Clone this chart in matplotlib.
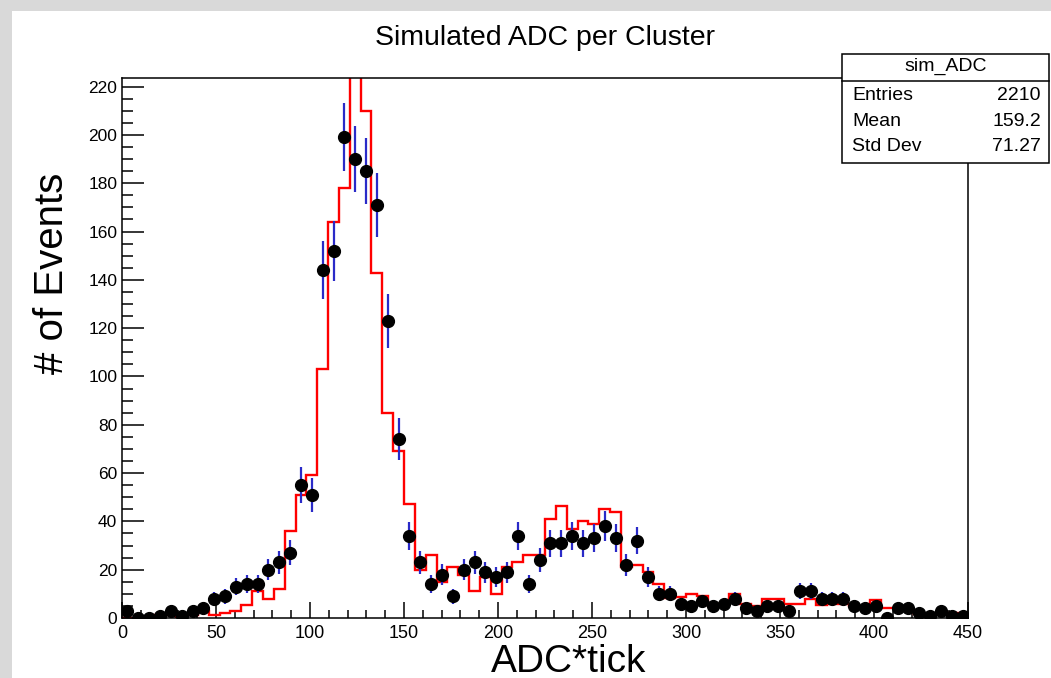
import numpy as np
import matplotlib
matplotlib.use('Agg')
import matplotlib.pyplot as plt
from matplotlib.patches import Rectangle
from matplotlib.ticker import MultipleLocator

plt.rcParams['font.family'] = ['Liberation Sans', 'DejaVu Sans']

# histogram binning: 78 bins from 0 to 450
x_lo, x_hi, n_bins = 0, 450, 78

# data counts per bin (black points)
data_counts = [3, 0, 0, 1, 3, 1, 3, 4, 8, 9, 13, 14, 14, 20, 23, 27,
               55, 51, 144, 152, 199, 190, 185, 171, 123, 74,
               34, 23, 14, 18, 9, 20, 23, 19, 17, 19,
               34, 14, 24, 31, 31, 34, 31, 33, 38, 33,
               22, 32, 17, 10, 10, 6, 5, 7,
               5, 6, 8, 4, 3, 5, 5, 3, 11, 11, 8, 8, 8, 5, 4, 5, 0, 4, 4, 2, 1, 3, 1, 1]

# simulated histogram (red line)
sim_counts = [0, 0, 0, 1.2, 1.2, 0, 1.2, 2.9, 1.2, 1.9, 2.9, 5.4, 11.2, 8, 11.9,
              36, 51, 59, 103, 164, 178, 257, 210, 143, 85, 69,
              47, 20, 26, 15, 21, 18, 11, 17, 10, 21,
              23, 26, 26, 41, 46.5, 37, 40, 39, 45, 44,
              21, 22, 19, 14, 8.4, 8.7, 10, 9,
              5, 6, 10, 6, 5, 8, 8, 5.7, 5.7, 8, 5.2, 5.7, 5.7, 5, 4.3, 7.3, 4.3, 4.3,
              3.2, 1.5, 0.3, 1.5, 2.2, 2.2]

stats_labels = ['Entries', 'Mean', 'Std Dev']
stats_values = ['2210', '159.2', '71.27']

W, H = 1051, 678
fig = plt.figure(figsize=(W / 100, H / 100), dpi=100)
fig.patch.set_facecolor('#d9d9d9')
fig.patches.append(Rectangle((12 / W, 0), 1, 1 - 11 / H, transform=fig.transFigure,
                             facecolor='white', edgecolor='none', zorder=-5))

ax = fig.add_axes([122 / W, (H - 618) / H, (968 - 122) / W, (618 - 77.5) / H])

edges = np.linspace(x_lo, x_hi, n_bins + 1)
centers = 0.5 * (edges[:-1] + edges[1:])
width = edges[1] - edges[0]
counts = np.array(data_counts, dtype=float)
errs = np.sqrt(counts)

ax.stairs(sim_counts, edges, baseline=None, color='#ff0000', lw=1.7, zorder=2)
ax.errorbar(centers, counts, yerr=errs, fmt='none', ecolor='#2a2ac8', elinewidth=1.6, zorder=3)
ax.errorbar(centers, counts, xerr=width / 2, fmt='none', ecolor='black', elinewidth=1.0, zorder=3)
ax.plot(centers, counts, 'o', color='black', ms=8.5, zorder=4)

ymax = 1.05 * np.max(counts + errs)
ax.set_xlim(x_lo, x_hi)
ax.set_ylim(0, ymax)

ax.xaxis.set_major_locator(MultipleLocator(50))
ax.xaxis.set_minor_locator(MultipleLocator(10))
ax.yaxis.set_major_locator(MultipleLocator(20))
ax.yaxis.set_minor_locator(MultipleLocator(5))
ax.tick_params(axis='y', which='major', direction='in', length=16, width=1.1, pad=3.5, labelsize=12.5)
ax.tick_params(axis='y', which='minor', direction='in', length=8, width=1.1)
ax.tick_params(axis='x', which='major', direction='in', length=11.5, width=1.1, pad=5, labelsize=13)
ax.tick_params(axis='x', which='minor', direction='in', length=6, width=1.1)
for s in ax.spines.values():
    s.set_linewidth(1.1)

fig.text(545 / W, 1 - 45 / H, 'Simulated ADC per Cluster', ha='center', va='baseline', fontsize=20.5)
fig.text(52 / W, 1 - 273 / H, '# of Events', rotation=90, ha='center', va='center', fontsize=29)
fig.text(569 / W, 1 - 672 / H, 'ADC*tick', ha='center', va='baseline', fontsize=28)

# stats box
bx0, bx1, by0, by1, bsep = 842, 1049, 54, 163, 80.7
fig.patches.append(Rectangle((bx0 / W, 1 - by1 / H), (bx1 - bx0) / W, (by1 - by0) / H,
                             transform=fig.transFigure, facecolor='white', edgecolor='black',
                             lw=1.1, zorder=5))
fig.lines.append(plt.Line2D([bx0 / W, bx1 / W], [1 - bsep / H, 1 - bsep / H],
                            transform=fig.transFigure, color='black', lw=1.1, zorder=6))
fig.text((bx0 + bx1) / 2 / W, 1 - 66 / H, 'sim_ADC', ha='center', va='center', fontsize=14, zorder=7)
row_y = [95, 121.5, 146.5]
for lab, val, yy in zip(stats_labels, stats_values, row_y):
    fig.text(852 / W, 1 - yy / H, lab, ha='left', va='center', fontsize=14, zorder=7)
    fig.text(1041 / W, 1 - yy / H, val, ha='right', va='center', fontsize=14, zorder=7)

fig.savefig('out.png', dpi=100, facecolor=fig.get_facecolor())
